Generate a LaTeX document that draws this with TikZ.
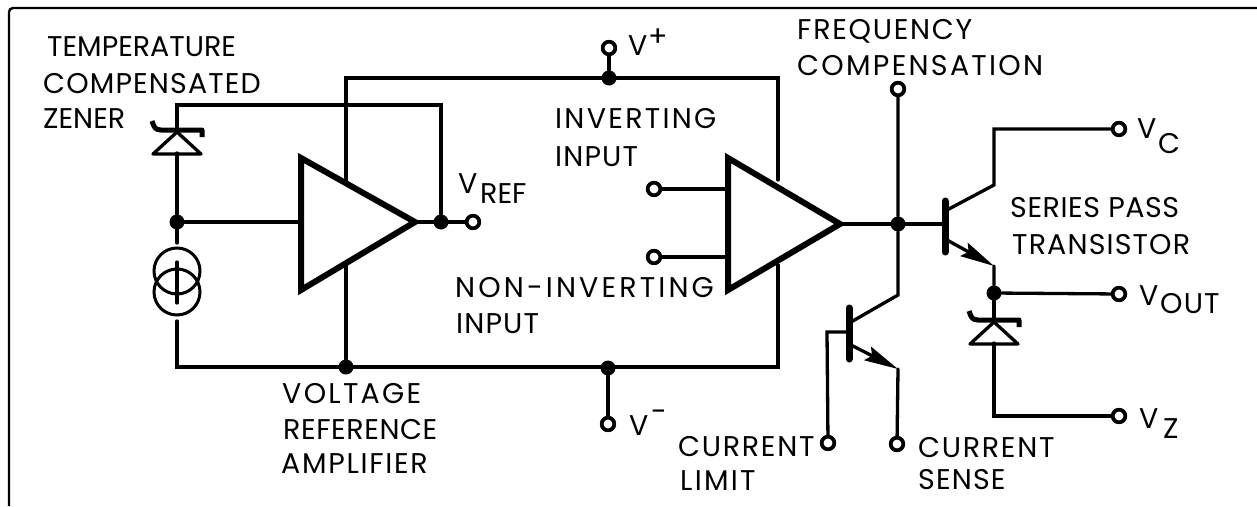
\documentclass[tikz,border=0pt]{standalone}
\usepackage{fontspec}
\setmainfont{Poppins}
\newfontfamily\spA[LetterSpace=2]{Poppins}
\newfontfamily\spB[LetterSpace=4]{Poppins}
\newfontfamily\spC[LetterSpace=6]{Poppins}
\newfontfamily\spD[LetterSpace=8]{Poppins}
\newfontfamily\spE[LetterSpace=11]{Poppins}
\usetikzlibrary{arrows.meta,calc}
\tikzset{
  wire/.style={line width=3.3pt,line join=miter,line cap=round},
  terminal/.style={circle,draw,line width=3.6pt,fill=white,minimum size=12.5pt,inner sep=0pt},
  joint/.style={circle,fill=black,minimum size=15pt,inner sep=0pt},
  amp/.style={line width=6pt,line join=miter,fill=white},
  bar/.style={line width=7pt,line cap=round},
  emit/.style={line width=3.3pt,-{Stealth[length=34pt,width=15pt,inset=5pt]}},
  lab/.style={anchor=base west,inner sep=0pt,font=\fontsize{28.5}{28.5}\selectfont},
  zenerpic/.pic={
    \draw[line width=5pt,line join=round] (-25,-7) .. controls (-23,-1) and (-22,2) .. (-16,2) -- (25,2) -- (25,9);
    \draw[line width=3.3pt,line join=round] (0,4) -- (24,26) -- (-24,26) -- cycle;
  }
}
\begin{document}
\begin{tikzpicture}[x=1pt,y=-1pt]
\useasboundingbox (0,0) rectangle (1257,506);
% frame
\coordinate (fa) at (9,506); \coordinate (fb) at (9,8); \coordinate (fc) at (1257,8);
\draw[line width=2.4pt,rounded corners=4pt] (fa) -- (fb) -- (fc);
% terminals
\node[terminal] (vplus) at (609,48) {};
\node[terminal] (vminus) at (608,424) {};
\node[terminal] (vref) at (473,222) {};
\node[terminal] (inv) at (654,189) {};
\node[terminal] (noninv) at (654,257) {};
\node[terminal] (freq) at (898,89) {};
\node[terminal] (vc) at (1119,129) {};
\node[terminal] (vout) at (1119,294) {};
\node[terminal] (vz) at (1119,416) {};
\node[terminal] (climit) at (828,443) {};
\node[terminal] (csense) at (897,444) {};
% joints
\node[joint] (jz) at (177,222) {};
\node[joint] (jr) at (441,222) {};
\node[joint] (jtop) at (609,78) {};
\node[joint] (jbot) at (608,368) {};
\node[joint] (jl) at (346,367) {};
\node[joint] (jo) at (898,224) {};
\node[joint] (je) at (994,293) {};
% wire corners
\coordinate (tl) at (177,105); \coordinate (tr) at (441,105);
\coordinate (bl) at (177,367); \coordinate (br) at (778,367);
\coordinate (ttl) at (346,78); \coordinate (ttr) at (778,78);
\coordinate (a1t) at (346,180); \coordinate (a1b) at (346,265);
\coordinate (a2t) at (778,180); \coordinate (a2b) at (778,265);
\coordinate (z1) at (177,128); \coordinate (z1b) at (177,153);
\coordinate (cs1) at (177,243); \coordinate (cs2) at (177,321);
\coordinate (a1i) at (301,222); \coordinate (a1o) at (415,222);
\coordinate (a2o) at (840,224); \coordinate (a2i1) at (728,189); \coordinate (a2i2) at (728,257);
\coordinate (b2) at (945,224);
\coordinate (c2a) at (947,210); \coordinate (c2b) at (994,185); \coordinate (c2c) at (994,129);
\coordinate (e2a) at (947,240); \coordinate (e2b) at (994,266);
\coordinate (z2) at (994,318); \coordinate (z2b) at (994,343); \coordinate (z2c) at (994,416);
\coordinate (c1a) at (851,322); \coordinate (c1b) at (898,295);
\coordinate (e1a) at (851,345); \coordinate (e1b) at (898,369);
\coordinate (b1a) at (849,332); \coordinate (b1b) at (827,332);
% wires
\draw[wire] (z1) -- (tl) -- (tr) -- (jr);
\draw[wire] (z1b) -- (jz) -- (cs1);
\draw[wire] (cs2) -- (bl) -- (br) -- (a2b);
\draw[wire] (a1b) -- (jl);
\draw[wire] (a1t) -- (ttl) -- (ttr) -- (a2t);
\draw[wire] (jz) -- (a1i);
\draw[wire] (a1o) -- (vref);
\draw[wire] (vplus) -- (jtop);
\draw[wire] (jbot) -- (vminus);
\draw[wire] (inv) -- (a2i1);
\draw[wire] (noninv) -- (a2i2);
\draw[wire] (a2o) -- (b2);
\draw[wire] (freq) -- (jo) -- (c1b) -- (c1a);
\draw[wire] (c2a) -- (c2b) -- (c2c) -- (vc);
\draw[wire] (e2b) -- (je) -- (vout);
\draw[wire] (je) -- (z2);
\draw[wire] (z2b) -- (z2c) -- (vz);
\draw[wire] (b1a) -- (b1b) -- (climit);
\draw[wire] (e1b) -- (csense);
\draw[emit] (e2a) -- (e2b);
\draw[emit] (e1a) -- (e1b);
% re-stack terminals over wires
\foreach \n in {vplus,vminus,vref,inv,noninv,freq,vc,vout,vz,climit,csense}
  \node[terminal] at (\n) {};
% amplifiers
\draw[amp] (301,158) -- (415,222) -- (301,290) -- cycle;
\draw[amp] (728,158) -- (840,224) -- (728,290) -- cycle;
% transistor bars
\draw[bar] (945,201) -- (945,252);
\draw[bar] (849,308) -- (849,359);
% zeners
\pic at (z1) {zenerpic};
\pic at (z2) {zenerpic};
% current source
\node[circle,draw,line width=3pt,minimum size=46pt,inner sep=0pt] (cc1) at (177,271) {};
\node[circle,draw,line width=3pt,minimum size=46pt,inner sep=0pt] (cc2) at (177,292) {};
\coordinate (csa) at (177,262); \coordinate (csb) at (177,303);
\draw[wire] (csa) -- (csb);
% labels
\node[lab] (t1) at (47,56) {TEMPERATURE};
\node[lab] (t2) at (43,93) {\spB COMPENSATED};
\node[lab] (t3) at (43,128) {ZENER};
\node[lab] (t4) at (628,55) {V};
\node[lab] (t4b) at (648,46) {+};
\node[lab] (t5) at (797,39) {\spC FREQUENCY};
\node[lab] (t6) at (797,75) {\spD COMPENSATION};
\node[lab] (t7) at (555,128) {\spD INVERTING};
\node[lab] (t8) at (555,166) {\spB INPUT};
\node[lab] (t9) at (458,193) {V};
\node[lab] (t10) at (480,203) {REF};
\node[lab] (t11) at (455,297) {\spE NON-INVERTING};
\node[lab] (t12) at (456,333) {\spB INPUT};
\node[lab] (t13) at (1137,138) {V};
\node[lab] (t14) at (1158,153) {C};
\node[lab] (t15) at (1010,217) {\spA SERIES PASS};
\node[lab] (t16) at (1012,254) {\spB TRANSISTOR};
\node[lab] (t17) at (1139,305) {V};
\node[lab] (t18) at (1160,313) {\spB OUT};
\node[lab] (t19) at (1139,428) {V};
\node[lab] (t20) at (1163,438) {Z};
\node[lab] (t21) at (629,435) {V};
\node[lab] (t21b) at (651,421) {-};
\node[lab] (t22) at (282,403) {\spD VOLTAGE};
\node[lab] (t24) at (283,439) {\spA REFERENCE};
\node[lab] (t25) at (281,473) {\spC AMPLIFIER};
\node[lab] (t26) at (678,456) {\spC CURRENT};
\node[lab] (t27) at (680,490) {\spD LIMIT};
\node[lab] (t28) at (918,457) {\spC CURRENT};
\node[lab] (t29) at (918,489) {\spB SENSE};
\end{tikzpicture}
\end{document}
